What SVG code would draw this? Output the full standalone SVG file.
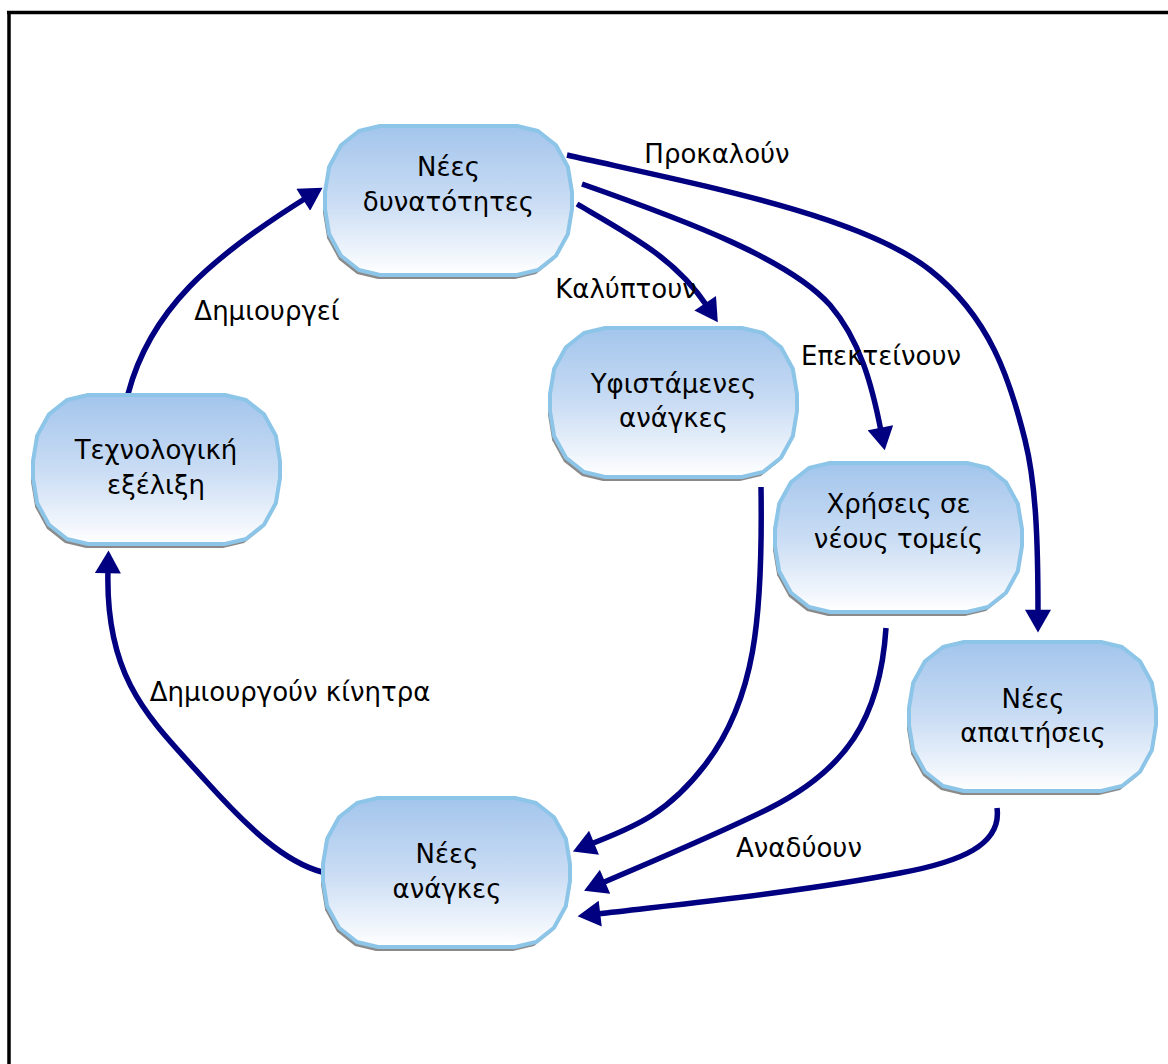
<svg xmlns="http://www.w3.org/2000/svg" xmlns:xlink="http://www.w3.org/1999/xlink" width="1168" height="1064" viewBox="0 0 1168 1064">
  <style>
    .frame { fill: none; stroke: #000; stroke-width: 3.5; }
    .shadow { fill: #8a8a8a; }
    .box { fill: url(#nodeGrad); stroke: #8cc5e8; stroke-width: 4; stroke-linejoin: round; }
    .ntext { font-family: "DejaVu Sans", Verdana, sans-serif; font-size: 26px; fill: #000; text-anchor: middle; }
    .elabel { font-family: "DejaVu Sans", Verdana, sans-serif; font-size: 26px; fill: #000; text-anchor: middle; }
    .conn { fill: none; stroke: #000080; stroke-width: 5.5; marker-end: url(#arrow); }
  </style>
  <defs>
    <linearGradient id="nodeGrad" x1="0" y1="0" x2="0" y2="1">
      <stop offset="0" stop-color="#a3c5ec"/>
      <stop offset="0.5" stop-color="#c9dcf4"/>
      <stop offset="1" stop-color="#ffffff"/>
    </linearGradient>
    <path id="shape" d="M55,0 L192,0 L213,5 L231,19.3 L242.8,40.7 L247,66 L247,83 L242.8,108.3 L231,129.7 L213,144 L192,149 L55,149 L34,144 L16,129.7 L4.2,108.3 L0,83 L0,66 L4.2,40.7 L16,19.3 L34,5 Z"/>
    <marker id="arrow" markerUnits="userSpaceOnUse" markerWidth="24" markerHeight="26" viewBox="0 0 21 24" refX="3" refY="12" orient="auto">
      <path d="M0,0 L21,12 L0,24 Z" fill="#000080"/>
    </marker>
  </defs>
  <rect width="1168" height="1064" fill="#fff"/>
  <path class="frame" d="M7,12.5 L1168,12.5 M9,11 L9,1064"/>

  <g id="connectors">
    <path class="conn" d="M128,394 C150,310 210,258 306,198"/>
    <path class="conn" d="M567,155 C700,185 860,215 930,270 C990,317 1010,380 1025,440 C1036,484 1038,540 1038,613"/>
    <path class="conn" d="M582,184 C690,222 790,260 830,305 C860,340 872,385 881,431"/>
    <path class="conn" d="M577,204 C630,235 675,258 707,306"/>
    <path class="conn" d="M761,487 C763,620 755,700 705,765 C665,817 630,828 591,844"/>
    <path class="conn" d="M886,628 C880,720 845,770 770,808 C720,833 660,858 602,883"/>
    <path class="conn" d="M997,808 C1002,845 960,862 900,873 C800,892 690,903 597,914"/>
    <path class="conn" d="M322,872 C285,862 250,830 205,780 C150,719 105,680 108,570"/>
    <text class="elabel" x="717" y="163">Προκαλούν</text>
    <text class="elabel" x="626" y="298">Καλύπτουν</text>
    <text class="elabel" x="881" y="365">Επεκτείνουν</text>
    <text class="elabel" x="267" y="320">Δημιουργεί</text>
    <text class="elabel" x="290" y="701">Δημιουργούν κίνητρα</text>
    <text class="elabel" x="799" y="857">Αναδύουν</text>
  </g>

  <g id="node-nees-dynatotites" transform="translate(325,126)">
    <use xlink:href="#shape" class="shadow" x="-2" y="4"/>
    <use xlink:href="#shape" class="box"/>
    <text class="ntext" x="123.5" y="50">Νέες</text>
    <text class="ntext" x="123.5" y="85">δυνατότητες</text>
  </g>

  <g id="node-texnologiki" transform="translate(33,395)">
    <use xlink:href="#shape" class="shadow" x="-2" y="4"/>
    <use xlink:href="#shape" class="box"/>
    <text class="ntext" x="123" y="64">Τεχνολογική</text>
    <text class="ntext" x="123" y="99">εξέλιξη</text>
  </g>

  <g id="node-yfistamenes" transform="translate(550,328)">
    <use xlink:href="#shape" class="shadow" x="-2" y="4"/>
    <use xlink:href="#shape" class="box"/>
    <text class="ntext" x="123.5" y="65">Υφιστάμενες</text>
    <text class="ntext" x="123.5" y="99">ανάγκες</text>
  </g>

  <g id="node-xriseis" transform="translate(775,463)">
    <use xlink:href="#shape" class="shadow" x="-2" y="4"/>
    <use xlink:href="#shape" class="box"/>
    <text class="ntext" x="123.5" y="50">Χρήσεις σε</text>
    <text class="ntext" x="123.5" y="85">νέους τομείς</text>
  </g>

  <g id="node-apaitiseis" transform="translate(909,642)">
    <use xlink:href="#shape" class="shadow" x="-2" y="4"/>
    <use xlink:href="#shape" class="box"/>
    <text class="ntext" x="124" y="66">Νέες</text>
    <text class="ntext" x="124" y="100">απαιτήσεις</text>
  </g>

  <g id="node-nees-anagkes" transform="translate(323,798)">
    <use xlink:href="#shape" class="shadow" x="-2" y="4"/>
    <use xlink:href="#shape" class="box"/>
    <text class="ntext" x="124" y="65">Νέες</text>
    <text class="ntext" x="124" y="100">ανάγκες</text>
  </g>
</svg>
